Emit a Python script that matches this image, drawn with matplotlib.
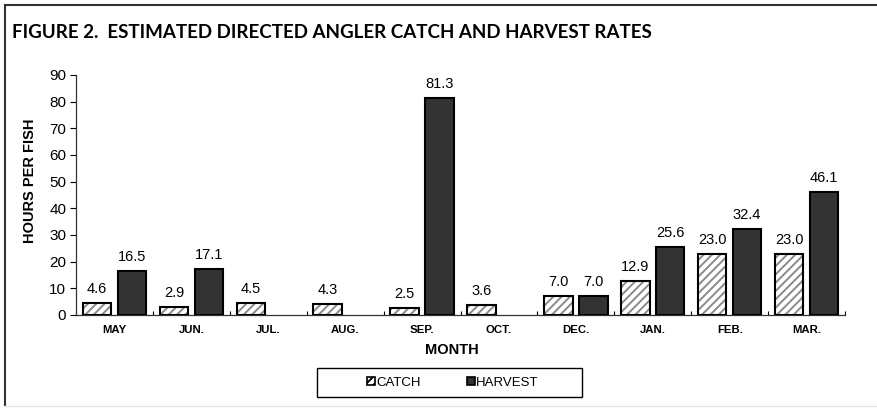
import numpy as np
import matplotlib
matplotlib.use("Agg")
import matplotlib.pyplot as plt
from matplotlib.patches import Rectangle, Patch
from matplotlib.lines import Line2D

months = ["MAY", "JUN.", "JUL.", "AUG.", "SEP.", "OCT.", "DEC.", "JAN.", "FEB.", "MAR."]
catch = [4.6, 2.9, 4.5, 4.3, 2.5, 3.6, 7.0, 12.9, 23.0, 23.0]
harvest = [16.5, 17.1, 0, 0, 81.3, 0, 7.0, 25.6, 32.4, 46.1]

plt.rcParams["font.family"] = ["Liberation Sans", "DejaVu Sans"]
plt.rcParams["hatch.linewidth"] = 1.4

W, H = 877, 409
fig = plt.figure(figsize=(W / 100, H / 100), dpi=100)
ax = fig.add_axes([76 / W, 1 - 315 / H, (845 - 76) / W, (315 - 75) / H])

x = np.arange(len(months))
bw = 0.37
off = 0.227
dark = "#333333"
hv = np.array(harvest)
has = hv > 0  # months with no harvest get no bar

# catch: grey hatch under a black outline
ax.bar(x - off, catch, bw, color="white", edgecolor="#8a8a8a", hatch="////", lw=0, zorder=2)
ax.bar(x - off, catch, bw, color="none", edgecolor="black", lw=1.5, zorder=3)
ax.bar(x[has] + off, hv[has], bw, color=dark, edgecolor="black", lw=1.5, zorder=3)

for xi, v in zip(x - off, catch):
    ax.text(xi, v + 2.6, f"{v:.1f}", ha="center", va="bottom", fontsize=10.5)
for xi, v in zip(x[has] + off, hv[has]):
    ax.text(xi, v + 2.6, f"{v:.1f}", ha="center", va="bottom", fontsize=10.5)

ax.set_xlim(-0.5, len(months) - 0.5)
ax.set_ylim(0, 90)
ax.set_yticks(range(0, 91, 10))
ax.tick_params(axis="y", labelsize=11, length=4, width=0.8, direction="out", pad=3)
ax.set_xticks(x)
ax.set_xticklabels(months, fontsize=8.2, fontweight="bold")
ax.tick_params(axis="x", length=0, pad=7)
ax.set_xticks(np.arange(-0.5, len(months)), minor=True)
ax.tick_params(axis="x", which="minor", length=3, width=0.8, direction="in")
for s in ["top", "right"]:
    ax.spines[s].set_visible(False)
for s in ["left", "bottom"]:
    ax.spines[s].set_color("#333333")
    ax.spines[s].set_linewidth(0.9)

ax.set_xlabel("MONTH", fontsize=10.5, fontweight="bold")
ax.set_ylabel("HOURS PER FISH", fontsize=10.5, fontweight="bold")
ax.xaxis.set_label_coords(0.489, -0.118)
ax.yaxis.set_label_coords(-0.051, 0.558)

fig.text(12 / W, 1 - 32 / H, "FIGURE 2.  ESTIMATED DIRECTED ANGLER CATCH AND HARVEST RATES",
         fontsize=13.5, fontweight="bold", family=["Lato", "DejaVu Sans"], va="center", ha="left")

# outer frame (top and left edges)
fig.add_artist(Line2D([5 / W, 1], [1 - 5 / H, 1 - 5 / H], color="#333333", lw=1.5))
fig.add_artist(Line2D([5 / W, 5 / W], [1 - 5 / H, 1 - 405 / H], color="#333333", lw=1.5))
fig.add_artist(Line2D([5 / W, 1], [1 - 406 / H, 1 - 406 / H], color="#e6e6e6", lw=1))

# legend box
fig.add_artist(Rectangle((317 / W, 1 - 397 / H), 265 / W, 29 / H, fill=False,
                         edgecolor="black", lw=1.0, transform=fig.transFigure))
handles = [Patch(facecolor="white", edgecolor="black", hatch="////", lw=1.2),
           Patch(facecolor=dark, edgecolor="black", lw=1.2)]
fig.legend(handles, ["CATCH", "HARVEST"], loc="center", bbox_to_anchor=(453 / W, 1 - 382.5 / H),
           ncol=2, frameon=False, fontsize=9.5, handlelength=0.6, handleheight=0.6,
           handletextpad=0.1, columnspacing=3.5)

fig.savefig("out.png", dpi=100)
